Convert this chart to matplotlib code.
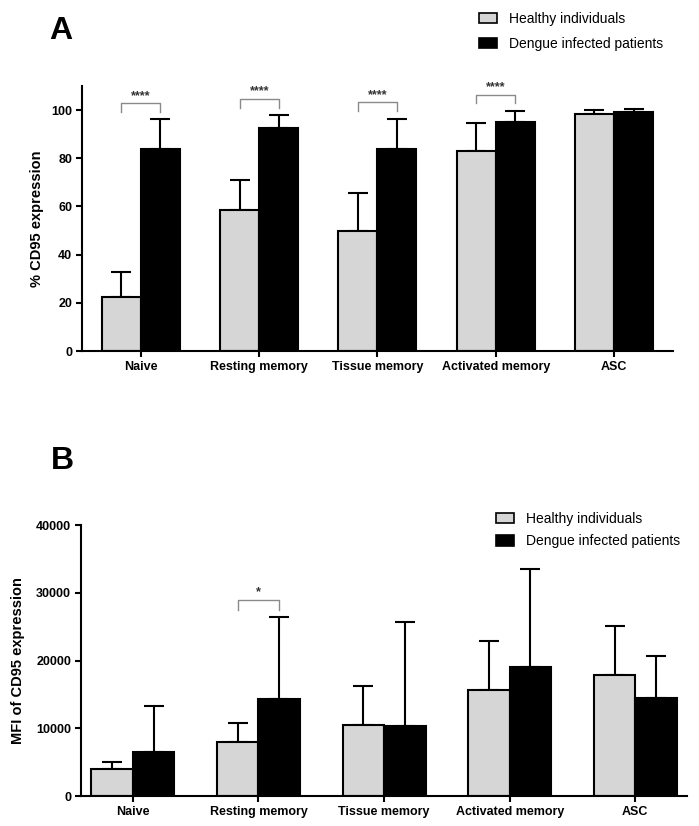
import numpy as np
import matplotlib.pyplot as plt
from matplotlib.patches import Patch

plt.rcParams['font.family'] = ['Liberation Sans', 'DejaVu Sans']

# Data
categories = ['Naive', 'Resting memory', 'Tissue memory', 'Activated memory', 'ASC']
series = ['Healthy individuals', 'Dengue infected patients']

pct_healthy = [22.4, 58.6, 49.8, 83.0, 98.5]
pct_healthy_err = [10.6, 12.4, 15.6, 11.8, 1.6]
pct_dengue = [83.9, 92.5, 83.7, 95.1, 99.2]
pct_dengue_err = [12.4, 5.4, 12.5, 4.6, 1.1]

mfi_healthy = [4000, 8000, 10550, 15650, 17800]
mfi_healthy_err = [1000, 2800, 5650, 7250, 7250]
mfi_dengue = [6450, 14300, 10380, 19050, 14500]
mfi_dengue_err = [6900, 12200, 15300, 14450, 6150]

# significance brackets: (category index, bracket top, leg bottom, label)
sig_a = [(0, 102.8, 99.0, '****'), (1, 104.7, 100.8, '****'),
         (2, 103.2, 99.6, '****'), (3, 106.4, 102.8, '****')]
sig_b = [(1, 28900, 27400, '*')]

healthy_color = '#d6d6d6'
dengue_color = '#000000'
bar_w = 0.33
x = np.arange(len(categories))

fig = plt.figure(figsize=(6.99, 8.26), dpi=100)
ax_a = fig.add_axes([0.117, 0.575, 0.846, 0.321])
ax_b = fig.add_axes([0.1155, 0.0363, 0.868, 0.328])


def draw_panel(ax, h, h_err, d, d_err, sig, xlim, ylim, yticks, ylabel, sig_dy):
    ax.bar(x - bar_w / 2, h, bar_w, color=healthy_color, edgecolor='black',
           linewidth=1.5, zorder=2)
    ax.bar(x + bar_w / 2, d, bar_w, color=dengue_color, edgecolor='black',
           linewidth=1.5, zorder=2)
    # upper error bars only
    ax.errorbar(x - bar_w / 2, h, yerr=[np.zeros(len(h)), h_err], fmt='none',
                ecolor='black', elinewidth=1.5, capsize=7, capthick=1.5, zorder=1)
    ax.errorbar(x + bar_w / 2, d, yerr=[np.zeros(len(d)), d_err], fmt='none',
                ecolor='black', elinewidth=1.5, capsize=7, capthick=1.5, zorder=1)

    for i, top, low, lab in sig:
        x0, x1 = i - bar_w / 2, i + bar_w / 2
        ax.plot([x0, x0, x1, x1], [low, top, top, low], color='#8a8a8a',
                linewidth=1.0, clip_on=False)
        ax.text(i, top + sig_dy, lab, ha='center', va='bottom', fontsize=9,
                fontweight='bold', color='#333333')

    ax.set_xlim(*xlim)
    ax.set_ylim(*ylim)
    ax.set_yticks(yticks)
    ax.set_yticklabels([str(t) for t in yticks], fontsize=9, fontweight='bold')
    ax.set_xticks(x)
    ax.set_xticklabels(categories, fontsize=9, fontweight='bold')
    ax.set_ylabel(ylabel, fontsize=10.5, fontweight='bold', labelpad=8)
    for s in ['top', 'right']:
        ax.spines[s].set_visible(False)
    for s in ['left', 'bottom']:
        ax.spines[s].set_linewidth(1.5)
    ax.tick_params(width=1.5, length=4, pad=3)


draw_panel(ax_a, pct_healthy, pct_healthy_err, pct_dengue, pct_dengue_err,
           sig_a, (-0.5, 4.5), (0, 110), [0, 20, 40, 60, 80, 100],
           '% CD95 expression', 0.6)
draw_panel(ax_b, mfi_healthy, mfi_healthy_err, mfi_dengue, mfi_dengue_err,
           sig_b, (-0.415, 4.415), (0, 40000), [0, 10000, 20000, 30000, 40000],
           'MFI of CD95 expression', 250)
ax_a.yaxis.labelpad = 5

handles = [Patch(facecolor=healthy_color, edgecolor='black', linewidth=1.2),
           Patch(facecolor=dengue_color, edgecolor='black', linewidth=1.2)]

leg_kw = dict(loc='upper left', frameon=False, fontsize=10, handlelength=1.3,
              handleheight=0.75, handletextpad=0.85, borderpad=0.0)
fig.legend(handles, series, bbox_to_anchor=(472 / 699, 1 - 5 / 826),
           labelspacing=0.8, **leg_kw)
fig.legend(handles, series, bbox_to_anchor=(489 / 699, 1 - 505 / 826),
           labelspacing=0.6, **leg_kw)

fig.text(61 / 699, 1 - 31 / 826, 'A', fontsize=23, fontweight='bold',
         ha='center', va='center')
fig.text(62 / 699, 1 - 461 / 826, 'B', fontsize=23, fontweight='bold',
         ha='center', va='center')

fig.savefig('out.png', dpi=100)
